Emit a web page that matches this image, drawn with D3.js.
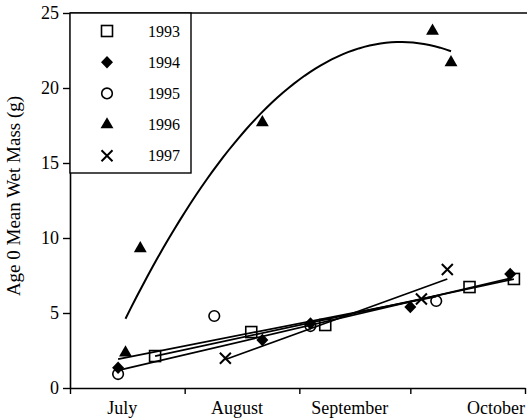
<!DOCTYPE html>
<html>
<head>
<meta charset="utf-8">
<script src="https://cdn.jsdelivr.net/npm/d3@7"></script>
<style>
  html, body { margin: 0; padding: 0; background: #fff; }
  svg { display: block; }
  text { font-family: "Liberation Serif", "DejaVu Serif", serif; fill: #000; }
</style>
</head>
<body>
<div id="chart"></div>
<script>
// ---- data (dates as month-day of the season) ----
const years = ["1993", "1994", "1995", "1996", "1997"];
const dates1993 = ["07-24", "08-19", "09-08", "10-17", "10-29"];
const mass1993  = [2.13, 3.73, 4.2, 6.73, 7.27];
const dates1994 = ["07-14", "08-22", "09-04", "10-01", "10-28"];
const mass1994  = [1.35, 3.2, 4.3, 5.4, 7.6];
const dates1995 = ["07-14", "08-09", "09-04", "10-08"];
const mass1995  = [0.93, 4.8, 4.13, 5.8];
const dates1996 = ["07-16", "07-20", "08-22", "10-07", "10-12"];
const mass1996  = [2.35, 9.3, 17.7, 23.8, 21.7];
const dates1997 = ["08-12", "10-04", "10-11"];
const mass1997  = [1.98, 5.93, 7.9];
const monthLabels = ["July", "August", "September", "October"];
const yTicks = [0, 5, 10, 15, 20, 25];
const yTitle = "Age 0 Mean Wet Mass (g)";

const W = 527, H = 420;
const parse = s => new Date(2001, +s.slice(0, 2) - 1, +s.slice(3, 5));

const x = d3.scaleTime()
  .domain([new Date(2001, 6, 1), new Date(2001, 10, 1)])
  .range([70, 525]);
const y = d3.scaleLinear().domain([0, 25]).range([388, 13]);

const svg = d3.select("#chart").append("svg").attr("width", W).attr("height", H);
const SERIF = '"Liberation Serif", "DejaVu Serif", serif';

// axes
const xAxis = d3.axisBottom(x).ticks(d3.timeMonth.every(1)).tickFormat("").tickSize(6).tickSizeOuter(0);
const gx = svg.append("g").attr("transform", `translate(0,${y(0)})`).call(xAxis);
gx.select(".domain").attr("stroke-width", 1.6);
gx.selectAll(".tick line").attr("stroke-width", 1.4);

const yAxis = d3.axisLeft(y).tickValues(yTicks).tickSize(7).tickSizeOuter(0).tickPadding(4);
const gy = svg.append("g").attr("transform", `translate(${x.range()[0]},0)`).call(yAxis)
  .attr("font-family", null).attr("font-size", null);
gy.select(".domain").attr("stroke-width", 1.6);
gy.selectAll(".tick line").attr("stroke-width", 1.4);
gy.selectAll(".tick text").style("font-family", SERIF).style("font-size", "18px");

// top border
svg.append("line").attr("x1", x.range()[0]).attr("x2", W).attr("y1", y(25)).attr("y2", y(25))
  .attr("stroke", "#000").attr("stroke-width", 1.6);

// month labels
const months = d3.timeMonth.range(x.domain()[0], x.domain()[1]);
months.forEach((mo, i) => {
  const next = d3.timeMonth.offset(mo, 1);
  const last = i === months.length - 1;
  const cx = last ? x.range()[1] : x(new Date((+mo + +next) / 2)) - 5;
  svg.append("text").attr("x", cx).attr("y", 414)
    .attr("text-anchor", last ? "end" : "middle")
    .style("font-size", "18px").text(monthLabels[i]);
});

// y title
svg.append("text").attr("transform", `translate(20,196) rotate(-90)`)
  .attr("text-anchor", "middle").style("font-size", "19px").text(yTitle);

// series
const series = [
  { name: years[0], d: dates1993, v: mass1993, shape: "square" },
  { name: years[1], d: dates1994, v: mass1994, shape: "diamond" },
  { name: years[2], d: dates1995, v: mass1995, shape: "circle" },
  { name: years[3], d: dates1996, v: mass1996, shape: "triangle" },
  { name: years[4], d: dates1997, v: mass1997, shape: "cross" }
].map(s => ({ ...s, pts: s.d.map((dd, i) => ({ t: parse(dd), v: s.v[i] })) }));

// least-squares fits in day units
const dayOf = t => (t - x.domain()[0]) / 864e5;
function linFit(pts) {
  const xs = pts.map(p => dayOf(p.t)), ys = pts.map(p => p.v);
  const mx = d3.mean(xs), my = d3.mean(ys);
  let sxy = 0, sxx = 0;
  xs.forEach((xx, i) => { sxy += (xx - mx) * (ys[i] - my); sxx += (xx - mx) ** 2; });
  const b = sxy / sxx, a = my - b * mx;
  return d => a + b * d;
}
function quadFit(pts) {
  const xs = pts.map(p => dayOf(p.t)), ys = pts.map(p => p.v);
  const S = k => d3.sum(xs, v => v ** k);
  const T = k => d3.sum(xs, (v, i) => v ** k * ys[i]);
  const A = [[S(0), S(1), S(2)], [S(1), S(2), S(3)], [S(2), S(3), S(4)]];
  const B = [T(0), T(1), T(2)];
  for (let i = 0; i < 3; i++) {
    for (let j = i + 1; j < 3; j++) {
      const f = A[j][i] / A[i][i];
      for (let k = i; k < 3; k++) A[j][k] -= f * A[i][k];
      B[j] -= f * B[i];
    }
  }
  const c = [0, 0, 0];
  for (let i = 2; i >= 0; i--) {
    let s = B[i];
    for (let k = i + 1; k < 3; k++) s -= A[i][k] * c[k];
    c[i] = s / A[i][i];
  }
  return d => c[0] + c[1] * d + c[2] * d * d;
}

const fitG = svg.append("g");
const line = d3.line().x(d => x(d.t)).y(d => y(d.v));
series.forEach(s => {
  const d0 = d3.min(s.pts, p => dayOf(p.t)), d1 = d3.max(s.pts, p => dayOf(p.t));
  const f = s.shape === "triangle" ? quadFit(s.pts) : linFit(s.pts);
  const steps = s.shape === "triangle" ? 60 : 1;
  const path = d3.range(steps + 1).map(i => {
    const dd = d0 + (d1 - d0) * i / steps;
    return { t: new Date(+x.domain()[0] + dd * 864e5), v: f(dd) };
  });
  fitG.append("path").attr("d", line(path)).attr("fill", "none")
    .attr("stroke", "#000").attr("stroke-width", s.shape === "triangle" ? 2 : 1.7);
});

// markers
function drawMarker(g, shape, cx, cy) {
  if (shape === "square") {
    g.append("rect").attr("x", cx - 5.5).attr("y", cy - 5.5).attr("width", 11).attr("height", 11)
      .attr("fill", "none").attr("stroke", "#000").attr("stroke-width", 1.6);
  } else if (shape === "circle") {
    g.append("circle").attr("cx", cx).attr("cy", cy).attr("r", 5.3)
      .attr("fill", "none").attr("stroke", "#000").attr("stroke-width", 1.6);
  } else if (shape === "diamond") {
    g.append("path").attr("d", `M${cx},${cy - 6.3}L${cx + 6},${cy}L${cx},${cy + 6.3}L${cx - 6},${cy}Z`)
      .attr("fill", "#000");
  } else if (shape === "triangle") {
    g.append("path").attr("d", d3.symbol(d3.symbolTriangle, 72)()).attr("transform", `translate(${cx},${cy})`)
      .attr("fill", "#000");
  } else if (shape === "cross") {
    const r = 5.5;
    g.append("path").attr("d", `M${cx - r},${cy - r}L${cx + r},${cy + r}M${cx - r},${cy + r}L${cx + r},${cy - r}`)
      .attr("stroke", "#000").attr("stroke-width", 2).attr("fill", "none");
  }
}
const mg = svg.append("g");
series.forEach(s => s.pts.forEach(p => drawMarker(mg, s.shape, x(p.t), y(p.v))));

// legend
const lg = svg.append("g");
lg.append("rect").attr("x", x.range()[0]).attr("y", y(25)).attr("width", 121).attr("height", 160)
  .attr("fill", "#fff").attr("stroke", "#000").attr("stroke-width", 1.4);
series.forEach((s, i) => {
  const cy = 31 + i * 31.2;
  drawMarker(lg, s.shape, 107, cy);
  lg.append("text").attr("x", 148).attr("y", cy + 5.5).style("font-size", "16px").text(s.name);
});
</script>
</body>
</html>
